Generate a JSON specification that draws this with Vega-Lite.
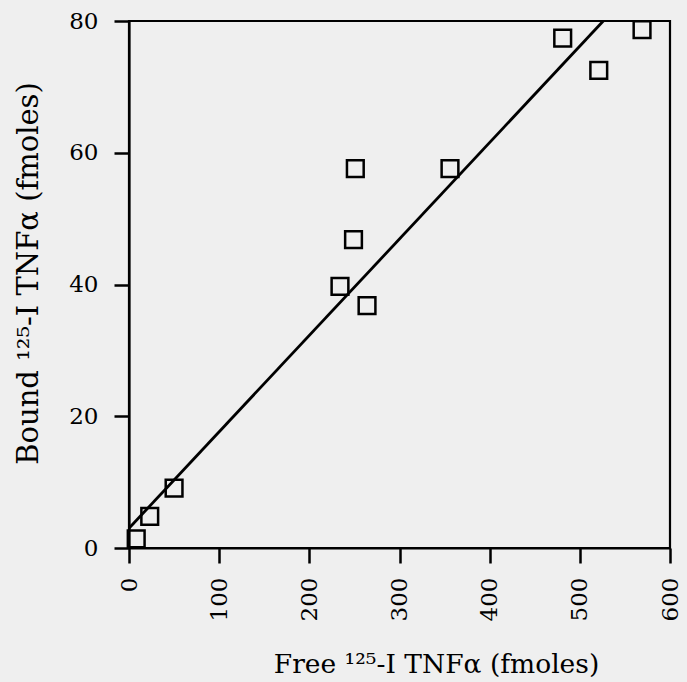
{
  "$schema": "https://vega.github.io/schema/vega-lite/v6.json",
  "width": 541,
  "height": 527,
  "autosize": {"type": "none"},
  "padding": {"left": 129, "top": 21, "right": 17, "bottom": 134},
  "background": "#efefef",
  "config": {
    "view": {"stroke": "black", "strokeWidth": 2.2, "fill": null}
  },
  "datasets": {
    "points": [
      {"free": 8, "bound": 1.4},
      {"free": 23, "bound": 4.8},
      {"free": 50, "bound": 9.1},
      {"free": 234, "bound": 39.7},
      {"free": 249, "bound": 46.8},
      {"free": 251, "bound": 57.6},
      {"free": 264, "bound": 36.8},
      {"free": 356, "bound": 57.6},
      {"free": 481, "bound": 77.4},
      {"free": 521, "bound": 72.5},
      {"free": 569, "bound": 78.7}
    ],
    "fit": [
      {"free": 0, "bound": 3.0},
      {"free": 526, "bound": 80}
    ]
  },
  "layer": [
    {
      "data": {"name": "fit"},
      "mark": {"type": "line", "color": "black", "strokeWidth": 2.8},
      "encoding": {
        "x": {"field": "free", "type": "quantitative"},
        "y": {"field": "bound", "type": "quantitative"}
      }
    },
    {
      "data": {"name": "points"},
      "mark": {"type": "point", "shape": "square", "filled": false, "color": "black", "strokeWidth": 2.5, "size": 280, "opacity": 1},
      "encoding": {
        "x": {
          "field": "free",
          "type": "quantitative",
          "scale": {"domain": [0, 600], "nice": false, "zero": false},
          "axis": {
            "values": [0, 100, 200, 300, 400, 500, 600],
            "grid": false,
            "domainColor": "black",
            "domainWidth": 2.2,
            "tickColor": "black",
            "tickWidth": 2.5,
            "tickSize": 15,
            "labelAngle": -90,
            "labelAlign": "right",
            "labelBaseline": "middle",
            "labelFont": "DejaVu Serif",
            "labelFontSize": 23,
            "labelColor": "black",
            "labelPadding": 14,
            "title": "Free ¹²⁵-I TNFα (fmoles)",
            "titleFont": "DejaVu Serif",
            "titleFontSize": 26.5,
            "titleFontWeight": "normal",
            "titleColor": "black",
            "titleAlign": "center",
            "titleBaseline": "alphabetic",
            "titleX": 307,
            "titleY": 124
          }
        },
        "y": {
          "field": "bound",
          "type": "quantitative",
          "scale": {"domain": [0, 80], "nice": false, "zero": false},
          "axis": {
            "values": [0, 20, 40, 60, 80],
            "grid": false,
            "domainColor": "black",
            "domainWidth": 2.2,
            "tickColor": "black",
            "tickWidth": 2.5,
            "tickSize": 15,
            "labelFont": "DejaVu Serif",
            "labelFontSize": 23,
            "labelColor": "black",
            "labelPadding": 16,
            "title": "Bound ¹²⁵-I TNFα (fmoles)",
            "titleFont": "DejaVu Serif",
            "titleFontSize": 29,
            "titleFontWeight": "normal",
            "titleColor": "black",
            "titleAlign": "center",
            "titleBaseline": "middle",
            "titleAngle": -90,
            "titleX": -101,
            "titleY": 252
          }
        }
      }
    }
  ]
}
